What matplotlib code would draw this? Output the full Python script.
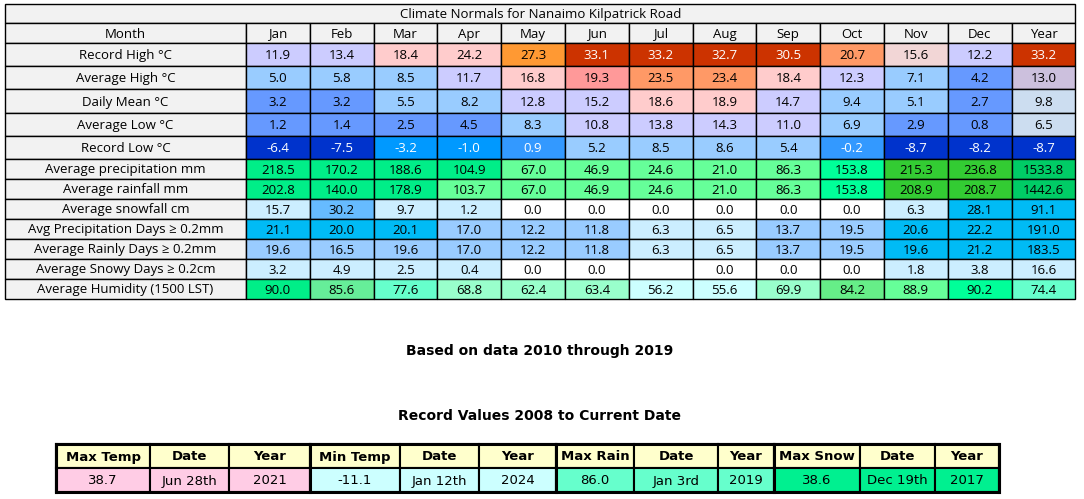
import matplotlib.pyplot as plt
from matplotlib.patches import Rectangle

# ---- data ----
title = "Climate Normals for Nanaimo Kilpatrick Road"
months = ["Jan", "Feb", "Mar", "Apr", "May", "Jun", "Jul", "Aug", "Sep", "Oct", "Nov", "Dec", "Year"]
row_labels = [
    "Record High °C", "Average High °C", "Daily Mean °C", "Average Low °C", "Record Low °C",
    "Average precipitation mm", "Average rainfall mm", "Average snowfall cm",
    "Avg Precipitation Days ≥ 0.2mm", "Average Rainly Days ≥ 0.2mm",
    "Average Snowy Days ≥ 0.2cm", "Average Humidity (1500 LST)",
]
record_high = [11.9, 13.4, 18.4, 24.2, 27.3, 33.1, 33.2, 32.7, 30.5, 20.7, 15.6, 12.2, 33.2]
avg_high = [5.0, 5.8, 8.5, 11.7, 16.8, 19.3, 23.5, 23.4, 18.4, 12.3, 7.1, 4.2, 13.0]
daily_mean = [3.2, 3.2, 5.5, 8.2, 12.8, 15.2, 18.6, 18.9, 14.7, 9.4, 5.1, 2.7, 9.8]
avg_low = [1.2, 1.4, 2.5, 4.5, 8.3, 10.8, 13.8, 14.3, 11.0, 6.9, 2.9, 0.8, 6.5]
record_low = [-6.4, -7.5, -3.2, -1.0, 0.9, 5.2, 8.5, 8.6, 5.4, -0.2, -8.7, -8.2, -8.7]
precip = [218.5, 170.2, 188.6, 104.9, 67.0, 46.9, 24.6, 21.0, 86.3, 153.8, 215.3, 236.8, 1533.8]
rain = [202.8, 140.0, 178.9, 103.7, 67.0, 46.9, 24.6, 21.0, 86.3, 153.8, 208.9, 208.7, 1442.6]
snow = [15.7, 30.2, 9.7, 1.2, 0.0, 0.0, 0.0, 0.0, 0.0, 0.0, 6.3, 28.1, 91.1]
precip_days = [21.1, 20.0, 20.1, 17.0, 12.2, 11.8, 6.3, 6.5, 13.7, 19.5, 20.6, 22.2, 191.0]
rain_days = [19.6, 16.5, 19.6, 17.0, 12.2, 11.8, 6.3, 6.5, 13.7, 19.5, 19.6, 21.2, 183.5]
snow_days = [3.2, 4.9, 2.5, 0.4, 0.0, 0.0, None, 0.0, 0.0, 0.0, 1.8, 3.8, 16.6]
humidity = [90.0, 85.6, 77.6, 68.8, 62.4, 63.4, 56.2, 55.6, 69.9, 84.2, 88.9, 90.2, 74.4]
rows = [record_high, avg_high, daily_mean, avg_low, record_low, precip, rain, snow,
        precip_days, rain_days, snow_days, humidity]

subtitle = "Based on data 2010 through 2019"
record_title = "Record Values 2008 to Current Date"
record_headers = ["Max Temp", "Date", "Year", "Min Temp", "Date", "Year",
                  "Max Rain", "Date", "Year", "Max Snow", "Date", "Year"]
record_values = ["38.7", "Jun 28th", "2021", "-11.1", "Jan 12th", "2024",
                 "86.0", "Jan 3rd", "2019", "38.6", "Dec 19th", "2017"]

# ---- cell colours ----
LV, PK, OR, OL, RD, SA = "#CCCCFF", "#FFCCCC", "#FF9933", "#FF9966", "#CC3300", "#FF9999"
LB, MB, DB, BB, B3 = "#99CCFF", "#6699FF", "#0033CC", "#0099FF", "#3399FF"
G1, G2, G3, G4, G5 = "#00EE88", "#66FF99", "#00FF99", "#33CC33", "#00CC66"
VL, SK, W = "#CCEEFF", "#00BBF5", "#FFFFFF"
A1, A2, A3 = "#66FFCC", "#99FFCC", "#CCFFFF"
colors = [
    [LV, LV, PK, PK, OR, RD, RD, RD, RD, OL, "#F2D6D6", LV, RD],
    [LB, LB, LB, LV, PK, SA, OL, OL, PK, LV, LB, MB, "#CCC0DD"],
    [MB, MB, LB, LB, LV, LV, PK, PK, LV, LB, LB, MB, "#CCDDF0"],
    [MB, MB, MB, MB, LB, LV, LV, LV, LV, LB, MB, MB, "#CCDDF0"],
    [DB, DB, BB, BB, B3, LB, LB, LB, LB, B3, DB, DB, DB],
    [G1, G1, G1, G1, G2, G2, G2, G2, G2, G3, G4, G4, G5],
    [G1, G1, G1, G2, G2, G2, G2, G2, G2, G3, G4, G4, G5],
    [VL, "#66BBFF", VL, VL, W, W, W, W, W, W, VL, SK, SK],
    [SK, SK, SK, LB, LB, LB, VL, VL, LB, LB, SK, SK, SK],
    [LB, LB, LB, LB, LB, LB, VL, VL, LB, LB, SK, SK, SK],
    [VL, VL, VL, VL, W, W, W, W, W, W, VL, VL, VL],
    [G1, "#66EE99", A1, A2, A2, A2, A3, A3, A2, "#66EE88", G2, G3, A1],
]
dark = {RD, DB, BB, B3}
record_colors = ["#FFCCE5"] * 3 + ["#CCFFFF"] * 3 + ["#66FFCC"] * 3 + ["#00F090"] * 3

# ---- layout (pixels) ----
fig = plt.figure(figsize=(10.84, 4.99), dpi=100)
ax = fig.add_axes([0, 0, 1, 1])
ax.set_xlim(0, 1084)
ax.set_ylim(499, 0)
ax.axis("off")

font = "Open Sans"
left, label_w, col_w = 5, 241, 63.8
top, title_h, head_h = 4, 19, 20
row_h = [23.2] * 5 + [20] * 7
grey = "#F2F2F2"
right = left + label_w + col_w * len(months)


def cell(x, y, w, h, fc, text, color="black", lw=1.0, **kw):
    ax.add_patch(Rectangle((x, y), w, h, facecolor=fc, edgecolor="black", lw=lw))
    ax.text(x + w / 2, y + h / 2 + 1, text, ha="center", va="center", color=color, **kw)


cell(left, top, right - left, title_h, grey, "", lw=1)
ax.text((left + right) / 2, top + title_h / 2 + 1, title, ha="center", va="center",
        fontsize=9.5, family=font)
y = top + title_h
cell(left, y, label_w, head_h, grey, "Month", fontsize=9.5, family=font)
for j, m in enumerate(months):
    cell(left + label_w + j * col_w, y, col_w, head_h, grey, m, fontsize=9.5, family=font)
y += head_h
for i, (lab, vals) in enumerate(zip(row_labels, rows)):
    h = row_h[i]
    cell(left, y, label_w, h, grey, lab, fontsize=9.5, family=font)
    for j, v in enumerate(vals):
        fc = colors[i][j]
        txt = "" if v is None else f"{v:.1f}"
        cell(left + label_w + j * col_w, y, col_w, h, fc, txt,
             color="white" if fc in dark else "black", fontsize=9.5, family=font)
    y += h

ax.text(540, 351, subtitle, ha="center", va="center", fontsize=10, fontweight="bold",
        family="DejaVu Sans")
ax.text(540, 416, record_title, ha="center", va="center", fontsize=10, fontweight="bold",
        family="DejaVu Sans")

edges = [56, 150, 229, 310, 400, 479, 556, 634, 718, 774, 860, 935, 999]
rt, rh = 444, 24
for k in range(len(record_headers)):
    x0, w = edges[k], edges[k + 1] - edges[k]
    cell(x0, rt, w, rh, "#FFFFCC", record_headers[k], lw=1.5, fontsize=9.5,
         fontweight="bold", family="DejaVu Sans Condensed" if False else "DejaVu Sans")
    cell(x0, rt + rh, w, rh, record_colors[k], record_values[k], lw=1.5, fontsize=9.5,
         family="DejaVu Sans")
for xb in (edges[0], edges[3], edges[6], edges[9], edges[-1]):
    ax.plot([xb, xb], [rt, rt + 2 * rh], color="black", lw=2.2)
ax.add_patch(Rectangle((edges[0], rt), edges[-1] - edges[0], 2 * rh, fill=False,
                       edgecolor="black", lw=2.2))

fig.savefig("out.png", dpi=100)
